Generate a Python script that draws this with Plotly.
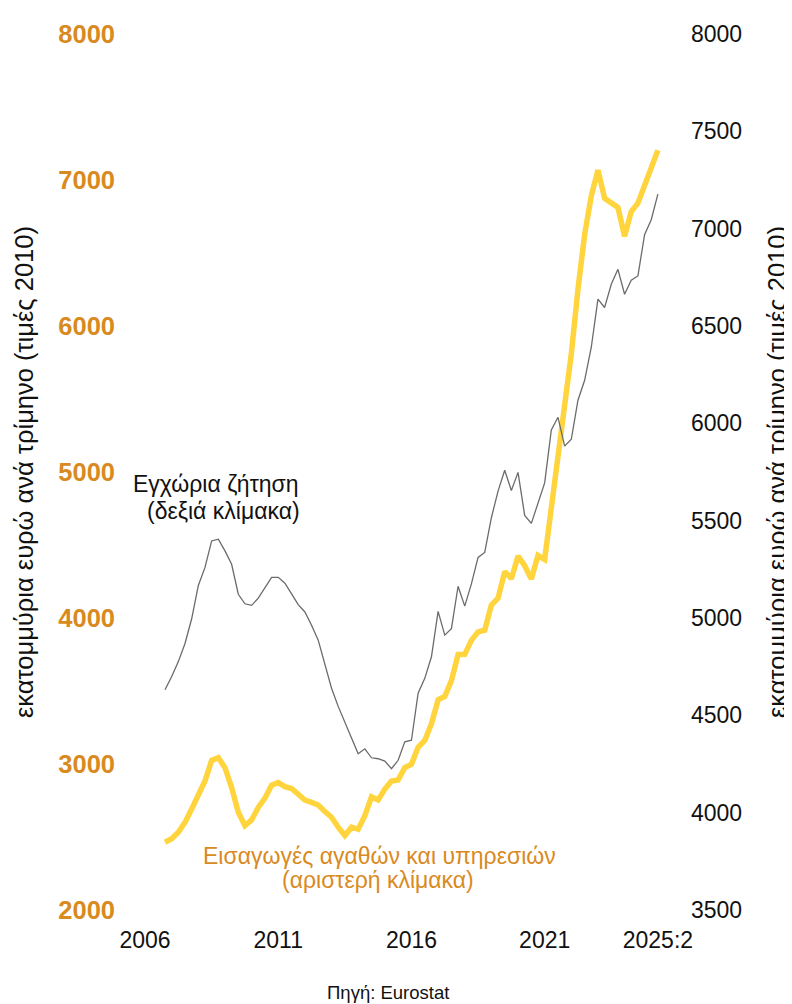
import plotly.graph_objects as go

# Quarterly data 2006Q4 .. 2025Q2
years_q = [(y, q) for y in range(2006, 2026) for q in range(1, 5)]
years_q = [yq for yq in years_q if (2006, 4) <= yq <= (2025, 2)]
quarters = [f"{y}Q{q}" for y, q in years_q]
xpos = [y + (q - 1) / 4 for y, q in years_q]

# Imports of goods and services (left scale)
imports = [2464, 2488, 2532, 2600, 2692, 2782, 2884, 3025, 3043, 2975,
           2839, 2669, 2578, 2617, 2703, 2766, 2855, 2873, 2845, 2832,
           2789, 2753, 2737, 2719, 2675, 2635, 2567, 2510, 2567, 2553,
           2646, 2775, 2753, 2828, 2884, 2891, 2975, 2998, 3115, 3161,
           3275, 3440, 3462, 3571, 3750, 3751, 3847, 3905, 3916, 4088,
           4136, 4318, 4269, 4425, 4358, 4267, 4428, 4401, 4755, 5116,
           5435, 5809, 6252, 6626, 6891, 7068, 6875, 6841, 6812, 6614,
           6784, 6841, 6954, 7080, 7204]

# Domestic demand (right scale)
demand = [4631, 4699, 4776, 4869, 4996, 5167, 5260, 5396, 5405, 5345,
          5276, 5122, 5073, 5065, 5102, 5158, 5209, 5209, 5179, 5124,
          5069, 5031, 4963, 4886, 4759, 4639, 4546, 4461, 4384, 4303,
          4328, 4282, 4277, 4265, 4226, 4269, 4364, 4372, 4614, 4690,
          4801, 5034, 4912, 4945, 5163, 5061, 5175, 5311, 5337, 5515,
          5652, 5759, 5655, 5748, 5527, 5486, 5592, 5694, 5966, 6031,
          5883, 5918, 6119, 6221, 6391, 6638, 6595, 6714, 6791, 6663,
          6735, 6757, 6969, 7046, 7177]

tick_vals = [2006, 2011, 2016, 2021, 2025.25]
tick_text = ["2006", "2011", "2016", "2021", "2025:2"]

ORANGE = "#D98A1E"
YELLOW = "#FFD43D"
GRAY = "#6B6B6B"
FONT = "Liberation Sans, Arial, sans-serif"

fig = go.Figure()
fig.add_trace(go.Scatter(x=xpos, y=imports, mode="lines", text=quarters,
                         line=dict(color=YELLOW, width=5.5), yaxis="y",
                         showlegend=False))
fig.add_trace(go.Scatter(x=xpos, y=demand, mode="lines", text=quarters,
                         line=dict(color=GRAY, width=1.3), yaxis="y2",
                         showlegend=False))

# page has an 8px body margin; figure sized to fit inside 792x1004 window
OFF = 8
W, H = 784, 996
L, R, T, B = 112, 104, 16, 94
pw = W - L - R
ph = H - T - B

def px_x(p):  # page pixel -> paper
    return (p - OFF - L) / pw

def px_y(p):
    return (H - B - (p - OFF)) / ph

fig.update_layout(
    width=W, height=H,
    margin=dict(l=L, r=R, t=T, b=B),
    paper_bgcolor="white", plot_bgcolor="white",
    xaxis=dict(range=[2005.06, 2026.38], tickvals=tick_vals, ticktext=tick_text,
               showgrid=False, zeroline=False, showline=False, ticks="",
               tickfont=dict(family=FONT, size=23, color="#111111"),
               ticklabelstandoff=14),
    yaxis=dict(range=[2000, 8000], dtick=1000, showgrid=False, zeroline=False,
               showline=False, ticks="",
               tickfont=dict(family=FONT, size=25.5, color=ORANGE, weight="bold"),
               ticklabelstandoff=4),
    yaxis2=dict(range=[3500, 8000], dtick=500, overlaying="y", side="right",
                showgrid=False, zeroline=False, showline=False, ticks="",
                tickfont=dict(family=FONT, size=23, color="#111111"),
                ticklabelstandoff=2),
)

ytitle = "εκατομμύρια ευρώ ανά τρίμηνο (τιμές 2010)"
ann = [
    dict(text=ytitle, x=px_x(24), y=px_y(467), textangle=-90,
         font=dict(family=FONT, size=25.5, color="#111111")),
    dict(text=ytitle, x=px_x(777), y=px_y(467), textangle=-90,
         font=dict(family=FONT, size=25.5, color="#111111")),
    dict(text="Εγχώρια ζήτηση", x=px_x(216), y=px_y(479),
         font=dict(family=FONT, size=23, color="#111111")),
    dict(text="(δεξιά κλίμακα)", x=px_x(223), y=px_y(506),
         font=dict(family=FONT, size=23, color="#111111")),
    dict(text="Εισαγωγές αγαθών και υπηρεσιών", x=px_x(379), y=px_y(855),
         font=dict(family=FONT, size=23, color=ORANGE)),
    dict(text="(αριστερή κλίμακα)", x=px_x(378), y=px_y(880),
         font=dict(family=FONT, size=23, color=ORANGE)),
    dict(text="Πηγή: Eurostat", x=px_x(388), y=px_y(993),
         font=dict(family=FONT, size=18.5, color="#111111")),
]
for a in ann:
    a.update(xref="paper", yref="paper", showarrow=False,
             xanchor="center", yanchor="middle")
fig.update_layout(annotations=ann)

fig.write_html("out.html")
